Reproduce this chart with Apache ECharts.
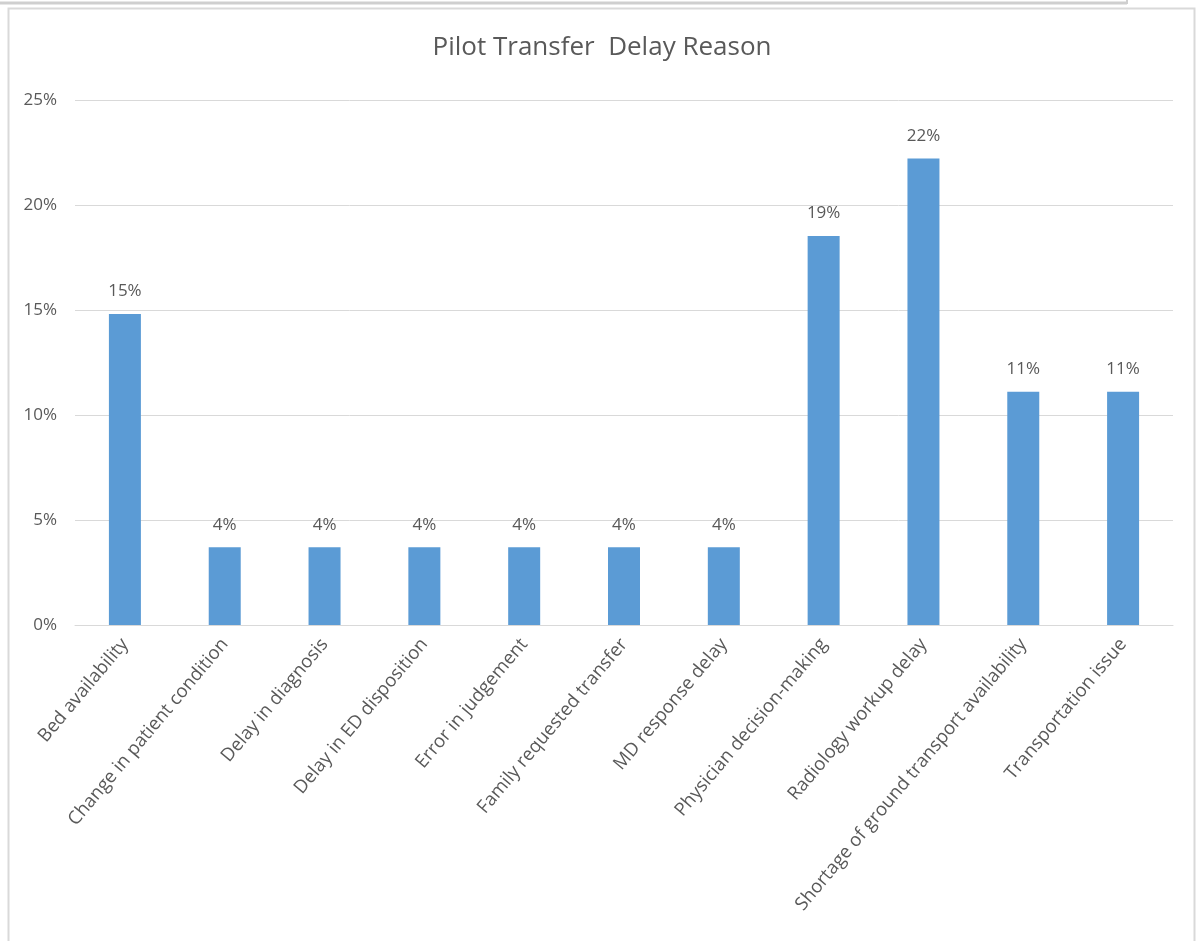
<!DOCTYPE html>
<html>
<head>
<meta charset="utf-8">
<script src="https://cdn.jsdelivr.net/npm/echarts@6/dist/echarts.min.js"></script>
<style>
  html, body { margin: 0; padding: 0; background: #fff; }
  #chart { width: 1204px; height: 941px; }
</style>
</head>
<body>
<div id="chart"></div>
<script>
// delay reasons (x axis)
const reasons = [
  'Bed availability',
  'Change in patient condition',
  'Delay in diagnosis',
  'Delay in ED disposition',
  'Error in judgement',
  'Family requested transfer',
  'MD response delay',
  'Physician decision-making',
  'Radiology workup delay',
  'Shortage of ground transport availability',
  'Transportation issue'
]
// share of delays, in percent
const shares = [14.81, 3.7, 3.7, 3.7, 3.7, 3.7, 3.7, 18.52, 22.22, 11.11, 11.11]

const yTicks = { min: 0, max: 25, step: 5 }

const font = '"Open Sans", "Liberation Sans", sans-serif'
const textColor = '#595959'

const chart = echarts.init(document.getElementById('chart'))
const option = {
  animation: false,
  backgroundColor: '#fff',
  title: {
    text: 'Pilot Transfer  Delay Reason',
    left: 'center',
    top: 30,
    textStyle: { fontFamily: font, fontSize: 26, fontWeight: 'normal', color: textColor }
  },
  grid: { left: 75, right: 31, top: 100, bottom: 316, containLabel: false },
  xAxis: {
    type: 'category',
    data: reasons,
    axisLine: { show: true, lineStyle: { color: '#d9d9d9' } },
    axisTick: { show: false },
    axisLabel: {
      interval: 0,
      rotate: 50,
      margin: 16,
      fontFamily: font,
      fontSize: 18.5,
      color: textColor
    }
  },
  yAxis: {
    type: 'value',
    min: yTicks.min,
    max: yTicks.max,
    interval: yTicks.step,
    axisLine: { show: false },
    axisTick: { show: false },
    splitLine: { lineStyle: { color: '#d9d9d9' } },
    axisLabel: {
      formatter: v => v + '%',
      margin: 18,
      fontFamily: font,
      fontSize: 17,
      color: textColor
    }
  },
  series: [{
    type: 'bar',
    data: shares,
    barWidth: 32,
    itemStyle: { color: '#5b9bd5' },
    label: {
      show: true,
      position: 'top',
      distance: 14,
      formatter: p => Math.round(p.value) + '%',
      fontFamily: font,
      fontSize: 17,
      color: textColor
    }
  }],
  graphic: [
    { type: 'rect', shape: { x: 8.5, y: 8.5, width: 1186, height: 960 },
      style: { fill: 'none', stroke: '#d9d9d9', lineWidth: 2 }, silent: true },
    { type: 'line', shape: { x1: 0, y1: 3, x2: 1127, y2: 3 },
      style: { stroke: '#cfcfcf', lineWidth: 3 }, silent: true },
    { type: 'line', shape: { x1: 1127, y1: 0, x2: 1127, y2: 4 },
      style: { stroke: '#cfcfcf', lineWidth: 2 }, silent: true }
  ]
}
chart.setOption(option)
</script>
</body>
</html>
